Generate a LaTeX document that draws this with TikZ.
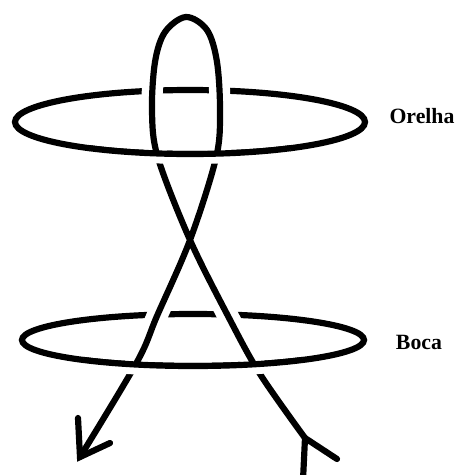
\documentclass[tikz,border=0pt]{standalone}
\usepackage{fontspec}
\setmainfont{Liberation Serif}
\usetikzlibrary{calc}
\tikzset{
  corda/.style={line width=4.4pt},
  halo/.style={preaction={draw=white, line width=15pt}},
  frente/.style={draw=white, line width=8.5pt},
  rotulo/.style={font=\fontsize{15.5}{18}\selectfont\bfseries, anchor=base},
}

\begin{document}
\begin{tikzpicture}[x=0.025cm, y=-0.025cm]
    \useasboundingbox (0,0) rectangle (459,475);

    % ── ANEIS ─────────────────────────────────────────────────────────
    \draw[corda] (190,122) ellipse [x radius=175, y radius=32];
    \draw[corda] (193,340) ellipse [x radius=171, y radius=26];

    % ── CORDA: passa por cima do fundo dos aneis ──────────────────────
    \draw[corda, halo, line cap=round] plot[smooth, tension=0.55] coordinates {
        (305,438) (260,374) (228,316) (190,240) (158,158) (152,112) (155,62)
        (165,32) (186,17) (207,30) (217,62) (220,112) (216,158) (190,240)
        (157,316) (137,362) (80,457)};

    % Frente dos aneis, por cima da corda
    \draw[frente] ([shift={(55:175 and 32)}]190,126) arc[start angle=55, end angle=125, x radius=175, y radius=32];
    \draw[corda] ([shift={(55:175 and 32)}]190,122) arc[start angle=55, end angle=125, x radius=175, y radius=32];
    \draw[frente] ([shift={(50:171 and 26)}]193,344) arc[start angle=50, end angle=130, x radius=171, y radius=26];
    \draw[corda] ([shift={(50:171 and 26)}]193,340) arc[start angle=50, end angle=130, x radius=171, y radius=26];

    % Pontas
    \coordinate (saida) at (80,457);
    \coordinate (entrada) at (305,438);
    \draw[corda, line cap=round] (78,418) -- (saida) -- (110,443);
    \draw[corda, line cap=round] (303,480) -- (entrada) -- (337,459);

    % Rotulos
    \node[rotulo] (orelha) at (422,123) {Orelha};
    \node[rotulo] (boca) at (419,349) {Boca};
\end{tikzpicture}
\end{document}
